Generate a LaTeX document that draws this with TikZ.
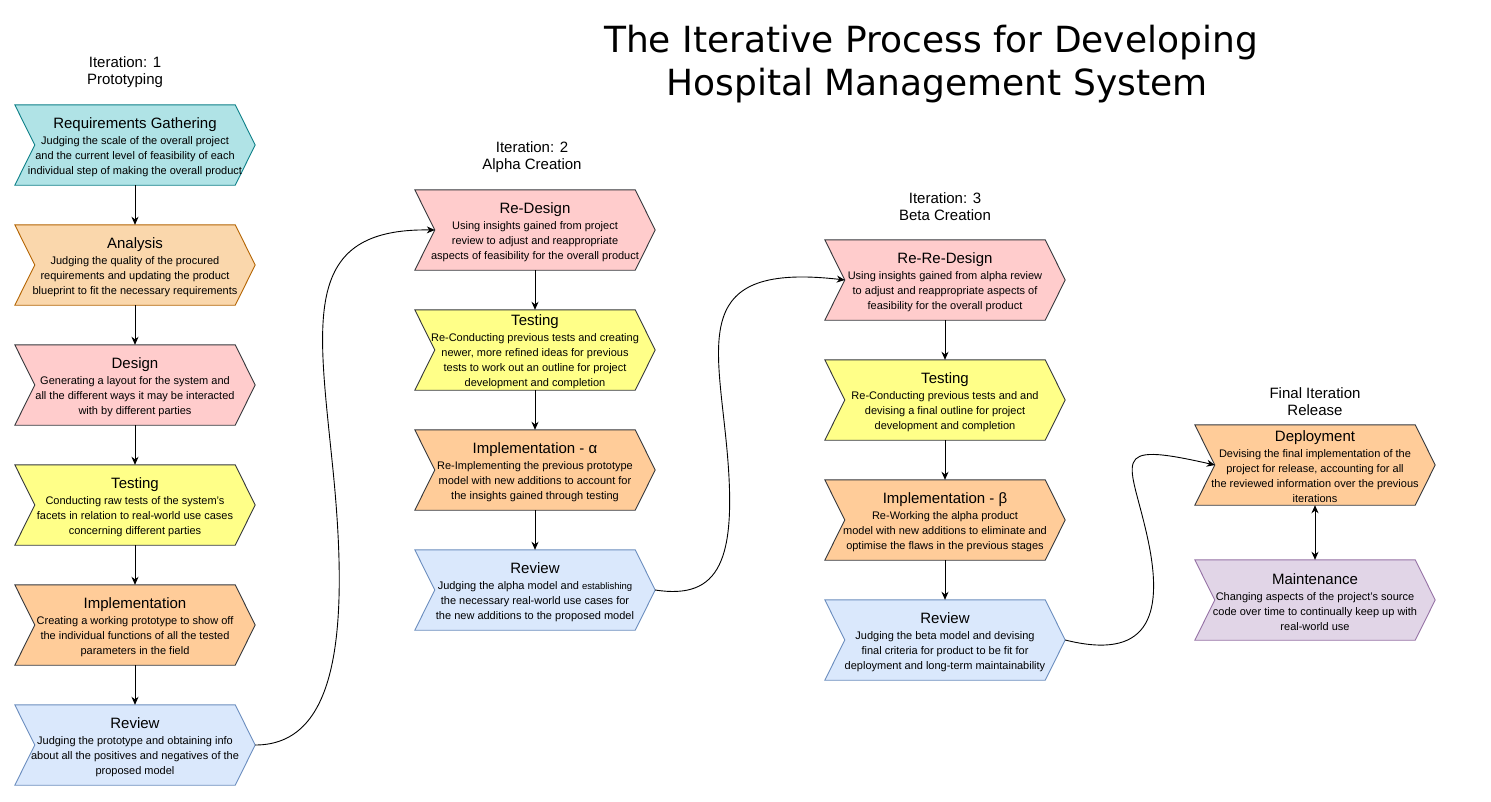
\documentclass[tikz,border=0pt]{standalone}
\usepackage{fontspec}
\setmainfont{Liberation Sans}
\newfontfamily\titlefont{DejaVu Sans}
\usetikzlibrary{arrows.meta}
\pgfdeclarelayer{background}
\pgfdeclarelayer{canvas}
\pgfsetlayers{canvas,background,main}

\definecolor{reqF}{HTML}{B0E3E6}\definecolor{reqD}{HTML}{0E8088}
\definecolor{anaF}{HTML}{FAD7AC}\definecolor{anaD}{HTML}{B46504}
\definecolor{pinkF}{HTML}{FFCCCC}\definecolor{darkD}{HTML}{36393D}
\definecolor{yelF}{HTML}{FFFF88}
\definecolor{oraF}{HTML}{FFCC99}
\definecolor{bluF}{HTML}{DAE8FC}\definecolor{bluD}{HTML}{6C8EBF}
\definecolor{purF}{HTML}{E1D5E7}\definecolor{purD}{HTML}{9673A6}

\tikzset{
  stepbox/.style={minimum width=240pt, minimum height=80pt, inner sep=0pt,
    align=center, font=\fontsize{11}{15}\selectfont, text=black},
  conn/.style={line width=0.9pt, draw=black, -{Stealth[length=8pt,width=7pt,inset=2.5pt]}},
  dconn/.style={line width=0.9pt, draw=black, {Stealth[length=8pt,width=7pt,inset=2.5pt]}-{Stealth[length=8pt,width=7pt,inset=2.5pt]}},
  lbl/.style={align=center, font=\fontsize{15}{17}\selectfont, inner sep=0pt},
  shapeline/.style={line width=0.9pt},
}
\newcommand\steptitle[1]{{\fontsize{15}{17}\selectfont #1}\\[1pt]}
% name, left x, top y, fill, stroke, text
\newcommand\mkstep[6]{%
  \node[stepbox] (#1) at (#2+120,#3+40) {};
  \node[stepbox, minimum height=0pt] (#1txt) at ([yshift=-2pt]#1.center) {#6};
  \begin{pgfonlayer}{background}
  \draw[shapeline, fill=#4, draw=#5] (#1.north west) -- ([xshift=-20pt]#1.north east) -- (#1.east)
     -- ([xshift=-20pt]#1.south east) -- (#1.south west) -- ([xshift=20pt]#1.west) -- cycle;
  \end{pgfonlayer}
}

\begin{document}
\begin{tikzpicture}[x=1pt,y=-1pt]
\begin{pgfonlayer}{canvas}
\fill[white] (0,0) rectangle (1491,801);
\end{pgfonlayer}
\useasboundingbox (0,0) rectangle (1491,801);

% Title
\node[align=center, font={\titlefont\fontsize{36}{43}\selectfont}, inner sep=0pt] (title) at (931,64)
  {The Iterative Process for Developing\\\hspace*{12pt}Hospital Management System};

% Iteration labels
\node[lbl] (it1) at (125,72) {Iteration: 1\\Prototyping};
\node[lbl] (it2) at (532,157) {Iteration: 2\\Alpha Creation};
\node[lbl] (it3) at (945,207) {Iteration: 3\\Beta Creation};
\node[lbl] (it4) at (1315,402) {Final Iteration\\Release};

% Column 1
\mkstep{req}{15}{105}{reqF}{reqD}{\steptitle{Requirements Gathering}Judging the scale of the overall project\\and the current level of feasibility of each\\individual step of making the overall product}
\mkstep{ana}{15}{225}{anaF}{anaD}{\steptitle{Analysis}Judging the quality of the procured\\requirements and updating the product\\blueprint to fit the necessary requirements}
\mkstep{des}{15}{345}{pinkF}{darkD}{\steptitle{Design}Generating a layout for the system and\\all the different ways it may be interacted\\with by different parties}
\mkstep{tst}{15}{465}{yelF}{darkD}{\steptitle{Testing}Conducting raw tests of the system's\\facets in relation to real-world use cases\\concerning different parties}
\mkstep{imp}{15}{585}{oraF}{darkD}{\steptitle{Implementation}Creating a working prototype to show off\\the individual functions of all the tested\\parameters in the field}
\mkstep{rev}{15}{705}{bluF}{bluD}{\steptitle{Review}Judging the prototype and obtaining info\\about all the positives and negatives of the\\proposed model}

% Column 2
\mkstep{rdA}{415}{190}{pinkF}{darkD}{\steptitle{Re-Design}Using insights gained from project\\review to adjust and reappropriate\\aspects of feasibility for the overall product}
\mkstep{tstA}{415}{310}{yelF}{darkD}{\steptitle{Testing}Re-Conducting previous tests and creating\\newer, more refined ideas for previous\\tests to work out an outline for project\\development and completion}
\mkstep{impA}{415}{430}{oraF}{darkD}{\steptitle{Implementation - α}Re-Implementing the previous prototype\\model with new additions to account for\\the insights gained through testing}
\mkstep{revA}{415}{550}{bluF}{bluD}{\steptitle{Review}Judging the alpha model and {\fontsize{9.5}{15}\selectfont establishing}\\the necessary real-world use cases for\\the new additions to the proposed model}

% Column 3
\mkstep{rdB}{825}{240}{pinkF}{darkD}{\steptitle{Re-Re-Design}Using insights gained from alpha review\\to adjust and reappropriate aspects of\\feasibility for the overall product}
\mkstep{tstB}{825}{360}{yelF}{darkD}{\steptitle{Testing}Re-Conducting previous tests and and\\devising a final outline for project\\development and completion}
\mkstep{impB}{825}{480}{oraF}{darkD}{\steptitle{Implementation - β}Re-Working the alpha product\\model with new additions to eliminate and\\optimise the flaws in the previous stages}
\mkstep{revB}{825}{600}{bluF}{bluD}{\steptitle{Review}Judging the beta model and devising\\final criteria for product to be fit for\\deployment and long-term maintainability}

% Column 4
\mkstep{dep}{1195}{425}{oraF}{darkD}{\steptitle{Deployment}Devising the final implementation of the\\project for release, accounting for all\\the reviewed information over the previous\\iterations}
\mkstep{mnt}{1195}{560}{purF}{purD}{\steptitle{Maintenance}Changing aspects of the project's source\\code over time to continually keep up with\\real-world use}

% Straight connectors
\draw[conn] (req.south) -- (ana.north);
\draw[conn] (ana.south) -- (des.north);
\draw[conn] (des.south) -- (tst.north);
\draw[conn] (tst.south) -- (imp.north);
\draw[conn] (imp.south) -- (rev.north);
\draw[conn] (rdA.south) -- (tstA.north);
\draw[conn] (tstA.south) -- (impA.north);
\draw[conn] (impA.south) -- (revA.north);
\draw[conn] (rdB.south) -- (tstB.north);
\draw[conn] (tstB.south) -- (impB.north);
\draw[conn] (impB.south) -- (revB.north);
\draw[dconn] (dep.south) -- (mnt.north);

% Curved connectors
\draw[conn] (rev.east) .. controls (335,745) and (350,640) .. (333,470)
   .. controls (318,320) and (300,228) .. ([xshift=20pt]rdA.west);
\draw[conn] (revA.east) .. controls (720,600) and (737,560) .. (727,450)
   .. controls (717,340) and (690,262) .. ([xshift=20pt]rdB.west);
\draw[conn] (revB.east) .. controls (1145,660) and (1165,620) .. (1148,540)
   .. controls (1131,460) and (1105,440) .. ([xshift=20pt]dep.west);
\end{tikzpicture}
\end{document}
